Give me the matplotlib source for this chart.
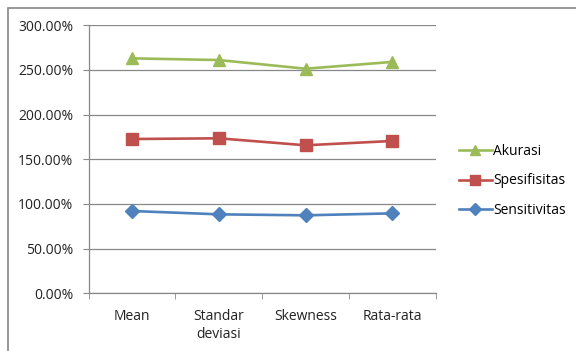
import numpy as np
import matplotlib.pyplot as plt
from matplotlib.patches import Rectangle
from matplotlib.ticker import FuncFormatter, FixedLocator

categories = ["Mean", "Standar\ndeviasi", "Skewness", "Rata-rata"]
sensitivitas = [92.1, 88.4, 87.3, 89.5]
spesifisitas = [80.6, 85.1, 78.4, 81.0]
akurasi = [90.3, 87.6, 85.7, 88.5]

plt.rcParams["font.family"] = ["Open Sans", "DejaVu Sans"]

series = [
    ("Sensitivitas", sensitivitas, "#4F81BD", "D", 7),
    ("Spesifisitas", spesifisitas, "#C0504D", "s", 8),
    ("Akurasi", akurasi, "#9BBB59", "^", 9),
]

fig = plt.figure(figsize=(5.76, 3.51), dpi=100)
fig.patches.append(Rectangle((7.5 / 576, -0.1), 1.2, 1 - 7.5 / 351 + 0.1,
                             transform=fig.transFigure, fill=False,
                             edgecolor="#868686", linewidth=1.2))

ax = fig.add_axes([88.7 / 576, 1 - 293.3 / 351, (435.7 - 88.7) / 576, (293.3 - 25.3) / 351])
x = np.arange(len(categories))

# stacked line chart: each series sits on top of the previous ones
base = np.zeros(len(categories))
handles = []
for name, vals, color, marker, ms in series:
    base = base + np.array(vals)
    h, = ax.plot(x, base, color=color, lw=1.9, marker=marker, ms=ms,
                 label=name, zorder=3)
    handles.append(h)

ax.set_xlim(-0.5, len(categories) - 0.5)
ax.set_ylim(0, 300)
ax.set_yticks(np.arange(0, 301, 50))
ax.yaxis.set_major_formatter(FuncFormatter(lambda v, p: f"{v:.2f}%"))
ax.grid(axis="y", color="#888888", lw=0.9)
ax.set_axisbelow(True)

ax.set_xticks(x)
ax.set_xticklabels(categories, fontsize=10, color="#222222", linespacing=1.35)
ax.xaxis.set_minor_locator(FixedLocator(np.arange(-0.5, len(categories), 1.0)))
ax.tick_params(axis="x", which="major", length=0, pad=11)
ax.tick_params(axis="x", which="minor", length=4, color="#888888")
ax.tick_params(axis="y", length=4, color="#888888", labelsize=10,
               labelcolor="#222222", pad=7)

for side in ["top", "right"]:
    ax.spines[side].set_visible(False)
for side in ["left", "bottom"]:
    ax.spines[side].set_color("#888888")
    ax.spines[side].set_linewidth(0.9)

fig.legend(handles[::-1], [h.get_label() for h in handles[::-1]],
           loc="center left", bbox_to_anchor=(446 / 576, 1 - 181 / 351),
           frameon=False, fontsize=10, handlelength=2.4, handletextpad=0.1,
           labelspacing=1.05, markerscale=0.85)

fig.savefig("out.png", dpi=100)
